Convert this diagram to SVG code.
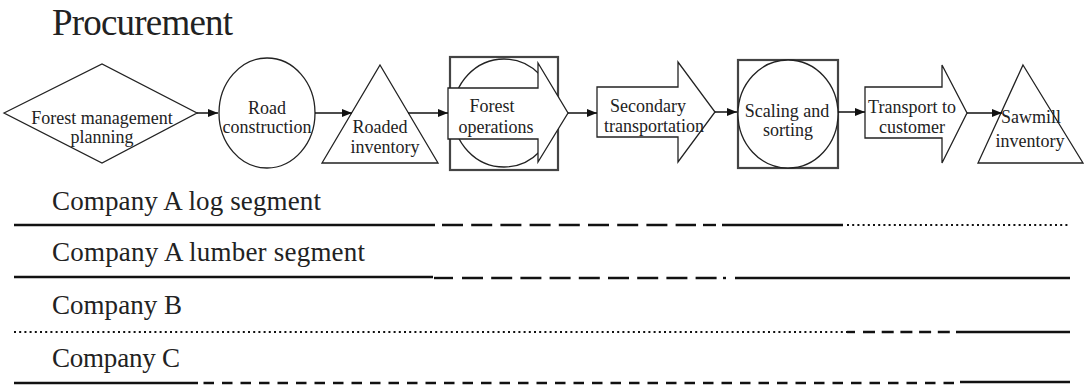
<svg xmlns="http://www.w3.org/2000/svg" width="1085" height="385" viewBox="0 0 1085 385">
<style>
.bg{fill:#fff}
.shape{fill:#fff;stroke:#222;stroke-width:1.3}
.box{fill:none;stroke:#444;stroke-width:2.2}
.lbl{font-family:"Liberation Serif","Times New Roman",serif;font-size:18px;fill:#222;text-anchor:middle}
.title{font-family:"Liberation Serif","Times New Roman",serif;font-size:37px;fill:#222}
.co{font-family:"Liberation Serif","Times New Roman",serif;font-size:27px;fill:#222}
.conn{stroke:#111;stroke-width:1.5;fill:none;marker-end:url(#ah)}
.ln{stroke:#111;stroke-width:2.4;fill:none}
.dash{stroke-dasharray:21 8.2}
.dot{stroke-dasharray:2 3.2;stroke-width:2}
.sdash{stroke-dasharray:12 6.7}
.cdash{stroke-dasharray:10.5 8}
</style>
<defs>
<marker id="ah" markerUnits="userSpaceOnUse" markerWidth="10" markerHeight="8" refX="10" refY="4" orient="auto">
<path d="M0,0 L10,4 L0,8 z" fill="#111"/>
</marker>
</defs>
<rect class="bg" x="0" y="0" width="1085" height="385"/>
<text class="title" x="52" y="35" textLength="181">Procurement</text>

<g id="n-forest-management-planning">
<polygon class="shape" points="4,113 102,64 197,113 102,163"/>
<text class="lbl" x="102" y="124">Forest management</text>
<text class="lbl" x="102" y="143">planning</text>
</g>
<g id="n-road-construction">
<ellipse class="shape" cx="267" cy="113" rx="48" ry="55"/>
<text class="lbl" x="267" y="114">Road</text>
<text class="lbl" x="267" y="133">construction</text>
</g>
<g id="n-roaded-inventory">
<polygon class="shape" points="380,65 438,163 322,163"/>
<text class="lbl" x="380" y="133">Roaded</text>
<text class="lbl" x="385" y="153">inventory</text>
</g>
<g id="n-forest-operations">
<rect class="box" x="450" y="57" width="108" height="113"/>
<ellipse class="shape" cx="504" cy="113" rx="51" ry="54"/>
<polygon class="shape" points="448,88 538,88 538,63 568,113 538,162 538,139 448,139"/>
<text class="lbl" x="492" y="112">Forest</text>
<text class="lbl" x="496" y="133">operations</text>
</g>
<g id="n-secondary-transportation">
<polygon class="shape" points="597,87 678,87 678,62 715,112 678,162 678,137 597,137"/>
<text class="lbl" x="648" y="112">Secondary</text>
<text class="lbl" x="654" y="132">transportation</text>
</g>
<g id="n-scaling-and-sorting">
<rect class="box" x="738" y="60" width="100" height="108"/>
<ellipse class="shape" cx="788" cy="114" rx="50" ry="54"/>
<text class="lbl" x="787" y="117">Scaling and</text>
<text class="lbl" x="788" y="136">sorting</text>
</g>
<g id="n-transport-to-customer">
<polygon class="shape" points="865,87 942,87 942,65 967,113 942,163 942,138 865,138"/>
<text class="lbl" x="912" y="113">Transport to</text>
<text class="lbl" x="912" y="133">customer</text>
</g>
<g id="n-sawmill-inventory">
<polygon class="shape" points="1023,65 1083,163 978,163"/>
<text class="lbl" x="1031" y="123">Sawmill</text>
<text class="lbl" x="1030" y="147">inventory</text>
</g>

<g id="connectors">
<line class="conn" x1="197" y1="113" x2="218" y2="113"/>
<line class="conn" x1="315" y1="113" x2="352" y2="113"/>
<line class="conn" x1="408" y1="113" x2="448" y2="113"/>
<line class="conn" x1="568" y1="113" x2="597" y2="113"/>
<line class="conn" x1="715" y1="112" x2="737" y2="112"/>
<line class="conn" x1="838" y1="112" x2="865" y2="112"/>
<line class="conn" x1="967" y1="113" x2="1002" y2="113"/>
</g>

<g id="company-a-log">
<text class="co" x="52" y="210" textLength="269">Company A log segment</text>
<line class="ln" x1="14" y1="225" x2="435" y2="225"/>
<line class="ln dash" x1="442" y1="225" x2="696" y2="225"/>
<line class="ln" x1="703" y1="225" x2="716" y2="225"/>
<line class="ln" x1="722" y1="225" x2="843" y2="225"/>
<line class="ln dot" x1="847" y1="225" x2="1070" y2="225"/>
</g>
<g id="company-a-lumber">
<text class="co" x="52" y="261" textLength="313">Company A lumber segment</text>
<line class="ln" x1="14" y1="277" x2="433" y2="277"/>
<line class="ln" x1="434" y1="278" x2="453" y2="278"/>
<line class="ln dash" x1="462" y1="278" x2="717" y2="278"/>
<line class="ln" x1="723" y1="278" x2="726" y2="278"/>
<line class="ln" x1="735" y1="278" x2="1070" y2="278"/>
</g>
<g id="company-b">
<text class="co" x="52" y="314" textLength="130">Company B</text>
<line class="ln dot" x1="14" y1="332" x2="847" y2="332"/>
<line class="ln" x1="847" y1="332" x2="855" y2="332"/>
<line class="ln sdash" x1="863" y1="332" x2="950" y2="332"/>
<line class="ln" x1="956" y1="332" x2="1070" y2="332"/>
</g>
<g id="company-c">
<text class="co" x="52" y="367" textLength="128">Company C</text>
<line class="ln" x1="14" y1="383" x2="198" y2="383"/>
<line class="ln cdash" x1="203.5" y1="383" x2="955" y2="383"/>
<line class="ln" x1="960" y1="382" x2="1070" y2="382"/>
</g>
</svg>
